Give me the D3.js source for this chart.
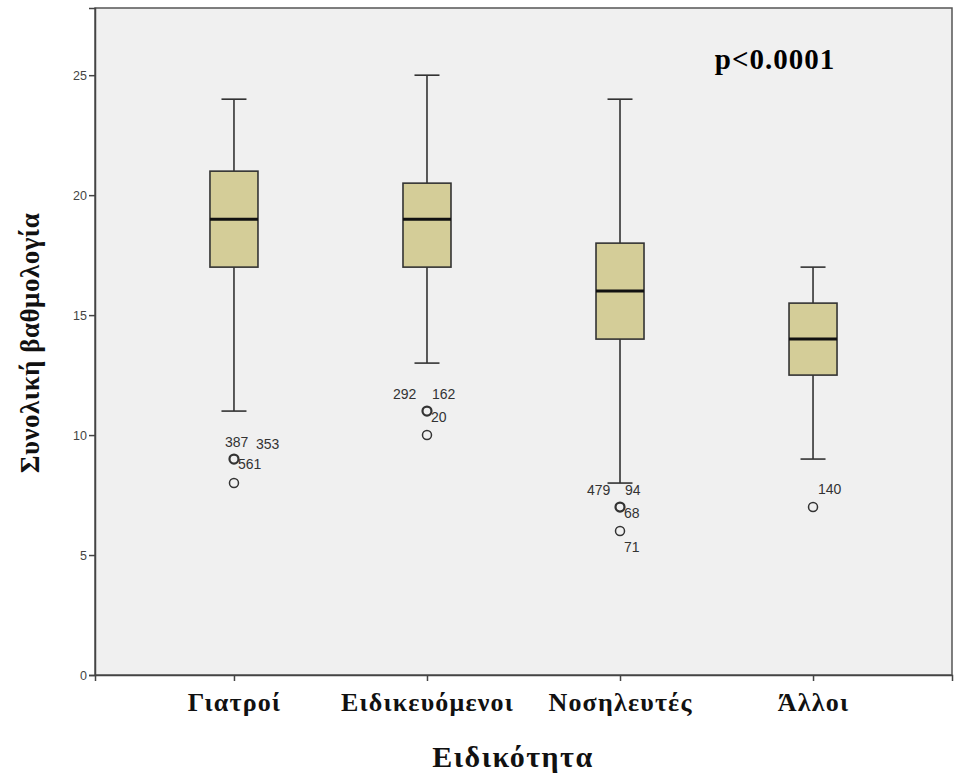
<!DOCTYPE html>
<html>
<head>
<meta charset="utf-8">
<script src="https://cdn.jsdelivr.net/npm/d3@7/dist/d3.min.js"></script>
<style>
  html, body { margin: 0; padding: 0; background: #ffffff; }
  svg { display: block; }
</style>
</head>
<body>
<svg id="chart" width="956" height="782"></svg>
<script>
// Total score by specialty (box plot summary)
const categories = ["Γιατροί", "Ειδικευόμενοι", "Νοσηλευτές", "Άλλοι"];
const whiskerLow  = [11, 13, 8, 9];
const q1          = [17, 17, 14, 12.5];
const median      = [19, 19, 16, 14];
const q3          = [21, 20.5, 18, 15.5];
const whiskerHigh = [24, 25, 24, 17];
// Outliers: [category index, value, case labels]
const outliers = [
  [0, 9, ["387", "353", "561"]],
  [0, 8, []],
  [1, 11, ["292", "162", "20"]],
  [1, 10, []],
  [2, 7, ["479", "94", "68"]],
  [2, 6, ["71"]],
  [3, 7, ["140"]]
];
const yTicks = [0, 5, 10, 15, 20, 25];

const svg = d3.select("#chart");
const plot = { left: 95, right: 952, top: 8, bottom: 675 };

const x = d3.scalePoint().domain(categories).range([plot.left, plot.right]).padding(0.72);
const y = d3.scaleLinear().domain([0, 27.8]).range([plot.bottom, plot.top]);

// Plot background and frame
svg.append("rect")
  .attr("x", plot.left).attr("y", plot.top)
  .attr("width", plot.right - plot.left).attr("height", plot.bottom - plot.top)
  .attr("fill", "#f0f0f0").attr("stroke", "#555").attr("stroke-width", 1.5);

// Axes
const yAxis = d3.axisLeft(y).tickValues(yTicks).tickSize(6).tickPadding(2);
const gy = svg.append("g").attr("transform", `translate(${plot.left},0)`).call(yAxis);
gy.select(".domain").attr("stroke", "#444").attr("stroke-width", 1.5);
gy.selectAll(".tick line").attr("stroke", "#444").attr("stroke-width", 1.5);
gy.selectAll(".tick text").attr("font-family", "Liberation Sans, Arial, sans-serif")
  .attr("font-size", 12.5).attr("fill", "#444");

const xAxis = d3.axisBottom(x).tickSize(6).tickPadding(12);
const gx = svg.append("g").attr("transform", `translate(0,${plot.bottom})`).call(xAxis);
gx.select(".domain").attr("stroke", "#444").attr("stroke-width", 1.5);
gx.selectAll(".tick line").attr("stroke", "#444").attr("stroke-width", 1.5);
gx.selectAll(".tick text").attr("font-family", "Liberation Serif, Times New Roman, serif")
  .attr("font-weight", "bold").attr("font-size", 26).attr("letter-spacing", 1.2)
  .attr("fill", "#111");

// Boxes
const boxW = 48, capW = 25;
const g = svg.append("g");
categories.forEach((c, i) => {
  const cx = x(c);
  const stroke = "#333";
  g.append("line").attr("x1", cx).attr("x2", cx)
    .attr("y1", y(whiskerHigh[i])).attr("y2", y(q3[i]))
    .attr("stroke", stroke).attr("stroke-width", 1.6);
  g.append("line").attr("x1", cx).attr("x2", cx)
    .attr("y1", y(q1[i])).attr("y2", y(whiskerLow[i]))
    .attr("stroke", stroke).attr("stroke-width", 1.6);
  [whiskerHigh[i], whiskerLow[i]].forEach(v => {
    g.append("line").attr("x1", cx - capW / 2).attr("x2", cx + capW / 2)
      .attr("y1", y(v)).attr("y2", y(v))
      .attr("stroke", stroke).attr("stroke-width", 1.6);
  });
  g.append("rect").attr("x", cx - boxW / 2).attr("y", y(q3[i]))
    .attr("width", boxW).attr("height", y(q1[i]) - y(q3[i]))
    .attr("fill", "#d4cd98").attr("stroke", stroke).attr("stroke-width", 1.6);
  g.append("line").attr("x1", cx - boxW / 2).attr("x2", cx + boxW / 2)
    .attr("y1", y(median[i])).attr("y2", y(median[i]))
    .attr("stroke", "#111").attr("stroke-width", 3);
});

// Outlier circles and case labels
const lab = svg.append("g").attr("font-family", "Liberation Sans, Arial, sans-serif")
  .attr("font-size", 14).attr("fill", "#333");
outliers.forEach(([i, v, labels]) => {
  const cx = x(categories[i]), cy = y(v);
  g.append("circle").attr("cx", cx).attr("cy", cy).attr("r", 4.5)
    .attr("fill", "none").attr("stroke", "#333")
    .attr("stroke-width", labels.length > 1 ? 2.2 : 1.5);
  if (labels.length === 3) {
    // two labels above-left and above-right, one to the lower right
    const leftShift = i === 1 ? -34 : (i === 2 ? -33 : -9);
    lab.append("text").attr("x", cx + leftShift).attr("y", cy - 12).text(labels[0]);
    const rightShift = i === 0 ? 22 : 5;
    lab.append("text").attr("x", cx + rightShift).attr("y", cy - (i === 0 ? 10 : 12)).text(labels[1]);
    lab.append("text").attr("x", cx + 4).attr("y", cy + (i === 0 ? 10 : 11)).text(labels[2]);
  } else if (labels.length === 1) {
    if (i === 3) lab.append("text").attr("x", cx + 5).attr("y", cy - 13).text(labels[0]);
    else lab.append("text").attr("x", cx + 4).attr("y", cy + 21).text(labels[0]);
  }
});

// p-value annotation
svg.append("text").attr("x", 775).attr("y", 69).attr("text-anchor", "middle")
  .attr("font-family", "Liberation Serif, Times New Roman, serif")
  .attr("font-weight", "bold").attr("font-size", 29).attr("letter-spacing", 1)
  .attr("fill", "#000")
  .text("p<0.0001");

// Axis titles
svg.append("text").attr("x", 513).attr("y", 767).attr("text-anchor", "middle")
  .attr("font-family", "Liberation Serif, Times New Roman, serif")
  .attr("font-weight", "bold").attr("font-size", 30).attr("letter-spacing", 1.5)
  .attr("fill", "#111")
  .text("Ειδικότητα");

svg.append("text")
  .attr("transform", "translate(39,343) rotate(-90)")
  .attr("text-anchor", "middle")
  .attr("font-family", "Liberation Serif, Times New Roman, serif")
  .attr("font-weight", "bold").attr("font-size", 27).attr("letter-spacing", 0.5)
  .attr("fill", "#111")
  .text("Συνολική βαθμολογία");
</script>
</body>
</html>
